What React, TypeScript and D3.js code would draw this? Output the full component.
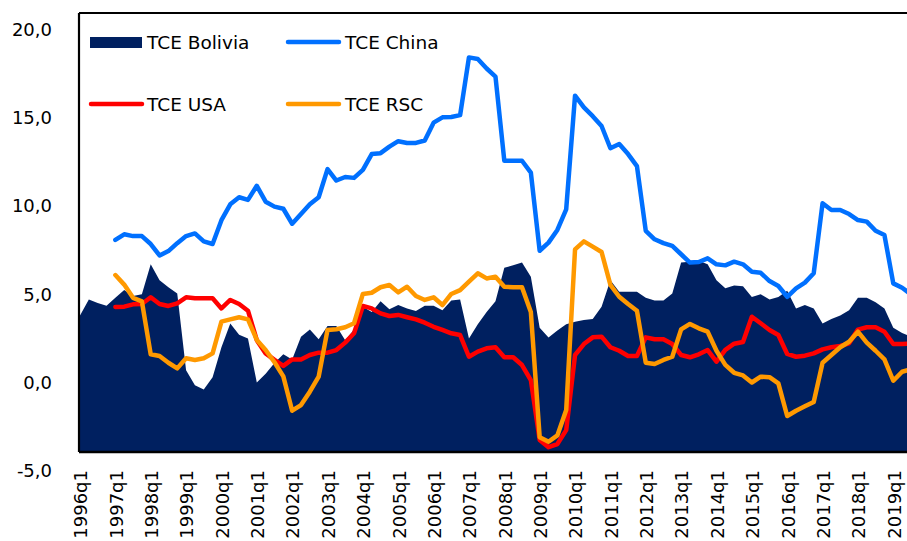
import React from "react";
import * as d3 from "d3";

// Quarterly categories 1996q1 .. 2019q3
const years = d3.range(1996, 2020);
const quarters: string[] = years.flatMap((y) => [1, 2, 3, 4].map((q) => `${y}q${q}`)).slice(0, 95);
const tickLabels: string[] = years.map((y) => `${y}q1`);
const yTicks = [-5, 0, 5, 10, 15, 20];

const bolivia: number[] = [
  3.8, 4.7, 4.5, 4.35, 4.8, 5.25, 4.9, 5.0, 6.7, 5.8, 5.4, 5.05, 0.7, -0.15, -0.4, 0.3,
  2.0, 3.35, 2.7, 2.5, 0.0, 0.5, 1.1, 1.6, 1.3, 2.6, 3.0, 2.45, 3.2, 3.2, 2.4, 3.0,
  4.3, 4.0, 4.6, 4.15, 4.4, 4.2, 4.05, 4.35, 4.35, 4.1, 4.65, 4.7, 2.5, 3.3, 4.0, 4.6,
  6.5, 6.65, 6.8, 6.0, 3.1, 2.55, 2.95, 3.3, 3.45, 3.55, 3.6, 4.3, 5.8, 5.15, 5.15, 5.15,
  4.8, 4.65, 4.65, 5.05, 6.8, 6.85, 6.9, 6.7, 5.8, 5.35, 5.5, 5.45, 4.85, 5.0, 4.7, 4.85,
  5.2, 4.2, 4.4, 4.2, 3.35, 3.6, 3.8, 4.1, 4.8, 4.8, 4.55, 4.2, 3.1, 2.8, 2.6,
];

const china: (number | null)[] = [
  null, null, null, null, 8.08, 8.4, 8.3, 8.3, 7.85, 7.2, 7.45, 7.9, 8.3, 8.45, 8.0, 7.85,
  9.2, 10.1, 10.5, 10.35, 11.15, 10.25, 9.97, 9.85, 9.0, 9.55, 10.1, 10.5, 12.1, 11.45, 11.65, 11.6,
  12.05, 12.95, 13.0, 13.37, 13.68, 13.58, 13.58, 13.72, 14.73, 15.03, 15.05, 15.16, 18.43, 18.34, 17.8, 17.34,
  12.57, 12.57, 12.57, 11.9, 7.47, 7.93, 8.65, 9.82, 16.26, 15.6, 15.1, 14.54, 13.28, 13.52, 12.95, 12.27,
  8.6, 8.12, 7.9, 7.74, 7.27, 6.8, 6.83, 7.04, 6.7, 6.64, 6.85, 6.7, 6.28, 6.22, 5.75, 5.47,
  4.86, 5.34, 5.66, 6.19, 10.16, 9.78, 9.78, 9.55, 9.21, 9.12, 8.6, 8.36, 5.62, 5.37, 5.0,
];

const usa: (number | null)[] = [
  null, null, null, null, 4.28, 4.3, 4.43, 4.45, 4.83, 4.45, 4.34, 4.49, 4.83, 4.77, 4.77, 4.77,
  4.2, 4.68, 4.45, 4.07, 2.4, 1.65, 1.28, 0.94, 1.31, 1.31, 1.56, 1.69, 1.69, 1.84, 2.26, 2.79,
  4.34, 4.2, 3.92, 3.77, 3.83, 3.7, 3.58, 3.39, 3.16, 2.98, 2.79, 2.69, 1.46, 1.75, 1.94, 2.0,
  1.43, 1.43, 0.99, 0.14, -3.26, -3.67, -3.49, -2.7, 1.56, 2.18, 2.56, 2.6, 2.0, 1.8, 1.5, 1.5,
  2.56, 2.45, 2.45, 2.18, 1.56, 1.43, 1.6, 1.84, 1.18, 1.85, 2.2, 2.3, 3.73, 3.36, 2.98, 2.69,
  1.62, 1.46, 1.52, 1.65, 1.88, 2.0, 2.07, 2.22, 3.0, 3.13, 3.13, 2.88, 2.18, 2.18, 2.2,
];

const rsc: (number | null)[] = [
  null, null, null, null, 6.09, 5.55, 4.8, 4.6, 1.6, 1.5, 1.12, 0.8, 1.37, 1.28, 1.37, 1.65,
  3.45, 3.58, 3.7, 3.58, 2.41, 1.84, 1.15, 0.35, -1.6, -1.28, -0.52, 0.33, 2.98, 3.02, 3.13, 3.36,
  5.02, 5.09, 5.4, 5.53, 5.11, 5.43, 4.9, 4.68, 4.83, 4.39, 5.02, 5.24, 5.72, 6.19, 5.9, 6.0,
  5.43, 5.4, 5.4, 4.0, -3.1, -3.36, -3.0, -1.56, 7.55, 8.0, 7.7, 7.4, 5.53, 4.86, 4.45, 4.07,
  1.12, 1.05, 1.28, 1.46, 3.01, 3.32, 3.07, 2.88, 1.8, 1.0, 0.55, 0.4, 0.0, 0.33, 0.3, -0.05,
  -1.9, -1.6, -1.35, -1.1, 1.12, 1.56, 2.0, 2.31, 2.88, 2.26, 1.8, 1.31, 0.1, 0.61, 0.75,
];

const W = 907;
const H = 541;
const frameLeft = 79;
const frameTop = 13;
const frameBottom = 452;
const FONT = "'DejaVu Sans', sans-serif";

const COLORS = {
  bolivia: "#002060",
  china: "#0070FF",
  usa: "#FF0000",
  rsc: "#FF9900",
};

export default function App() {
  const x = d3.scalePoint<string>().domain(quarters).range([80, 80 + 8.84 * (quarters.length - 1)]);
  const y = d3.scaleLinear().domain([-5, 20]).range([470.7, 29.7]);

  const area = d3
    .area<number>()
    .x((_, i) => x(quarters[i]) as number)
    .y0(frameBottom)
    .y1((d) => y(d));

  const line = d3
    .line<number | null>()
    .defined((d) => d !== null)
    .x((_, i) => x(quarters[i]) as number)
    .y((d) => y(d as number));

  const lines = [
    { key: "china", data: china, color: COLORS.china },
    { key: "usa", data: usa, color: COLORS.usa },
    { key: "rsc", data: rsc, color: COLORS.rsc },
  ];

  const fmt = (v: number) => v.toFixed(1).replace(".", ",");

  return (
    <svg
      width={W}
      height={H}
      style={{ position: "absolute", left: 0, top: 0, background: "#fff" }}
      fontFamily={FONT}
    >
      <rect x={0} y={0} width={W} height={H} fill="#fff" />
      <path d={area(bolivia) ?? ""} fill={COLORS.bolivia} />
      {lines.map((l) => (
        <path
          key={l.key}
          d={line(l.data) ?? ""}
          fill="none"
          stroke={l.color}
          strokeWidth={4.5}
          strokeLinejoin="round"
          strokeLinecap="round"
        />
      ))}
      {/* frame */}
      <line x1={frameLeft} x2={W + 10} y1={frameTop} y2={frameTop} stroke="#000" strokeWidth={2.2} />
      <line x1={frameLeft} x2={frameLeft} y1={frameTop} y2={frameBottom} stroke="#000" strokeWidth={2.2} />
      <line x1={frameLeft} x2={W + 10} y1={frameBottom} y2={frameBottom} stroke="#000" strokeWidth={2.6} />

      {/* y tick labels */}
      {yTicks.map((v) => (
        <text key={v} x={52} y={y(v)} dy="0.35em" textAnchor="end" fontSize={18} fill="#000">
          {fmt(v)}
        </text>
      ))}

      {/* x tick labels */}
      {tickLabels.map((t) => (
        <text
          key={t}
          transform={`translate(${(x(t) as number) + 1},470) rotate(-90)`}
          dy="0.35em"
          textAnchor="end"
          fontSize={18}
          fill="#000"
        >
          {t}
        </text>
      ))}

      {/* legend */}
      <rect x={90} y={37} width={52} height={11} fill={COLORS.bolivia} />
      <text x={147} y={49} fontSize={18.5} fill="#000">TCE Bolivia</text>
      <line x1={288} x2={339} y1={42} y2={42} stroke={COLORS.china} strokeWidth={4.5} strokeLinecap="round" />
      <text x={345} y={49} fontSize={18.5} fill="#000">TCE China</text>
      <line x1={91} x2={142} y1={104} y2={104} stroke={COLORS.usa} strokeWidth={4.5} strokeLinecap="round" />
      <text x={147} y={111} fontSize={18.5} fill="#000">TCE USA</text>
      <line x1={288} x2={339} y1={104} y2={104} stroke={COLORS.rsc} strokeWidth={4.5} strokeLinecap="round" />
      <text x={345} y={111} fontSize={18.5} fill="#000">TCE RSC</text>
    </svg>
  );
}
